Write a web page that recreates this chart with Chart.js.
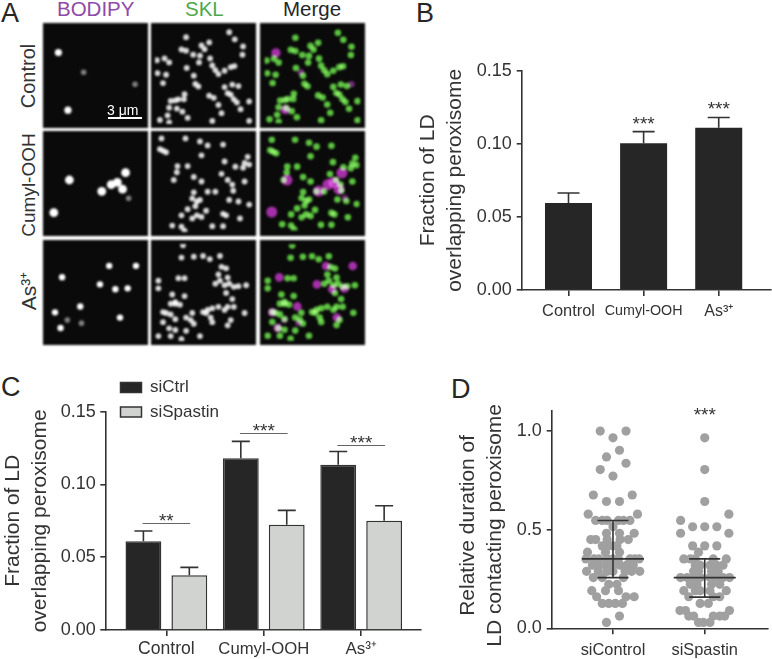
<!DOCTYPE html>
<html>
<head>
<meta charset="utf-8">
<title>LD peroxisome figure</title>
<script src="https://cdn.jsdelivr.net/npm/chart.js@4"></script>
<style>
  html, body { margin: 0; background: #fff; }
  body { position: relative; width: 772px; height: 659px; overflow: hidden; font-family: "Liberation Sans", Arial, sans-serif; color: #333; }
  canvas { position: absolute; }
  canvas.micro { background: #0a0a0a; filter: blur(0.9px); }
  .t { position: absolute; white-space: nowrap; line-height: 1; }
  .letter { font-size: 27px; color: #262626; }
  .head { font-size: 20.5px; }
  .row { font-size: 20px; transform: translate(-50%, -50%) rotate(-90deg); }
</style>
</head>
<body>
<div class="t letter" style="left:1px;top:0px">A</div>
<div class="t letter" style="left:416px;top:0px">B</div>
<div class="t letter" style="left:1px;top:374px">C</div>
<div class="t letter" style="left:451px;top:376px">D</div>

<div class="t head" style="left:57px;top:-1px;color:#8e4aa6">BODIPY</div>
<div class="t head" style="left:185px;top:-1px;color:#4fa84e">SKL</div>
<div class="t head" style="left:283px;top:-1px;color:#262626">Merge</div>

<div class="t row" style="left:28px;top:76px">Control</div>
<div class="t row" style="left:28px;top:185px;font-size:19px">Cumyl-OOH</div>
<div class="t row" style="left:28px;top:291px;font-size:21px">As³⁺</div>

<script>
Chart.defaults.font.family = '"Liberation Sans", Arial, sans-serif';
Chart.defaults.color = "#333";
Chart.defaults.animation = false;

const INK = "#333";

// Panel B
const treatments = ["Control", "Cumyl-OOH", "As³⁺"];
const overlapValues = [0.0595, 0.1003, 0.111];
const overlapErrorTops = [0.0663, 0.1083, 0.118];
const overlapStars = [null, "***", "***"];
const overlapStarLevels = [null, 0.1093, 0.1197];
const fractionTicks = [0, 0.05, 0.1, 0.15];

// Panel C
const ctrlValues = [0.0609, 0.118, 0.1136];
const ctrlErrorTops = [0.068, 0.1296, 0.1227];
const spastinValues = [0.0376, 0.0724, 0.0751];
const spastinErrorTops = [0.043, 0.0822, 0.0854];
const pairLevels = [0.0733, 0.1353, 0.1271];
const pairStars = ["**", "***", "***"];

// Panel D: [offset from category centre, relative duration]
const durationGroups = ["siControl", "siSpastin"];
const durationTicks = [0, 0.5, 1];
const siControlPoints = [
  [-0.139, 1], [0.142, 1], [0, 0.966], [0.071, 0.903], [-0.071, 0.869], [0.142, 0.837], [-0.139, 0.805], [0, 0.772],
  [-0.214, 0.676], [0.21, 0.676], [-0.071, 0.643], [0.071, 0.643], [-0.27, 0.579], [0.267, 0.579],
  [-0.189, 0.547], [-0.117, 0.547], [-0.064, 0.547], [0.06, 0.547], [0.114, 0.547], [0.185, 0.547], [0, 0.515],
  [-0.071, 0.482], [0.071, 0.482], [0.231, 0.482], [-0.242, 0.45], [-0.189, 0.45], [-0.064, 0.45], [0.078, 0.45], [0.167, 0.45],
  [-0.117, 0.418], [-0.064, 0.418], [0, 0.418], [0.043, 0.418], [-0.278, 0.386], [-0.082, 0.386], [0.071, 0.386],
  [-0.295, 0.352], [-0.206, 0.352], [-0.153, 0.352], [-0.064, 0.352], [0, 0.352], [0.06, 0.352], [0.185, 0.352], [0.238, 0.352], [0.285, 0.352],
  [-0.224, 0.32], [-0.153, 0.32], [-0.082, 0.32], [0, 0.32], [0.078, 0.32], [0.149, 0.32], [0.221, 0.32],
  [-0.288, 0.289], [-0.16, 0.289], [-0.064, 0.289], [0, 0.289], [0.132, 0.289], [0.203, 0.289], [0.292, 0.289],
  [-0.214, 0.257], [-0.117, 0.257], [0.114, 0.257], [-0.046, 0.223], [0.043, 0.223], [-0.231, 0.191], [-0.082, 0.191], [0.06, 0.191],
  [-0.178, 0.16], [0.142, 0.16], [0.231, 0.16], [-0.117, 0.126], [-0.046, 0.126], [0.025, 0.126], [0.103, 0.126],
  [0.071, 0.062], [-0.071, 0.03]
];
const siSpastinPoints = [
  [0, 0.966], [0, 0.805], [0, 0.643], [0.263, 0.579], [-0.263, 0.547], [-0.132, 0.515], [0, 0.515], [0.132, 0.515],
  [-0.263, 0.482], [0.263, 0.482], [-0.132, 0.418], [0, 0.418], [0.132, 0.418], [-0.068, 0.386],
  [-0.228, 0.352], [-0.157, 0.352], [-0.103, 0.352], [0.093, 0.352], [0.235, 0.352],
  [-0.103, 0.32], [-0.05, 0.32], [0.057, 0.32], [0.128, 0.32], [0.199, 0.32],
  [-0.121, 0.289], [-0.068, 0.289], [0.075, 0.289], [0.146, 0.289],
  [-0.263, 0.257], [-0.192, 0.257], [-0.121, 0.257], [-0.05, 0.257], [0.057, 0.257], [0.128, 0.257], [0.199, 0.257], [0.27, 0.257],
  [-0.157, 0.223], [-0.085, 0.223], [0.075, 0.223], [0.164, 0.223],
  [-0.228, 0.191], [-0.103, 0.191], [-0.05, 0.191], [0.057, 0.191], [0.235, 0.191],
  [-0.174, 0.16], [0.093, 0.16], [0.164, 0.16], [-0.05, 0.126], [0.039, 0.126],
  [-0.27, 0.09], [-0.21, 0.09], [0.27, 0.09],
  [-0.174, 0.062], [-0.121, 0.062], [0.093, 0.062], [0.164, 0.062], [0.217, 0.062],
  [-0.068, 0.03], [-0.014, 0.03], [0.057, 0.03]
];
const durationMedians = [0.352, 0.257];
const durationUpper = [0.547, 0.352];
const durationLower = [0.257, 0.158];

const bodipyControl = [[166, 153], [197, 340]];
const bodipyControlDim = [[248, 217], [415, 256]];
const bodipyCumyl = [[201, 540], [150, 647], [307, 577], [338, 555], [358, 548], [375, 570], [385, 516]];
const bodipyCumylDim = [[395, 600]];
const bodipyAs = [[331, 792], [418, 792], [178, 829], [301, 852], [351, 868], [391, 865], [237, 924], [155, 943], [173, 994], [366, 960]];
const bodipyAsDim = [[195, 968], [241, 978]];
const sklControl = [
  [555, 103], [695, 87], [713, 110], [605, 130], [630, 120], [615, 142], [740, 133], [738, 160], [540, 143], [555, 147],
  [578, 160], [600, 163], [633, 172], [640, 195], [460, 178], [485, 172], [500, 185], [597, 185], [557, 203], [462, 220],
  [490, 225], [480, 252], [580, 228], [650, 210], [660, 223], [680, 212], [700, 200], [712, 197], [585, 255], [595, 263],
  [705, 257], [725, 262], [690, 285], [700, 290], [630, 293], [645, 300], [710, 305], [720, 315], [550, 288], [548, 305],
  [505, 310], [520, 308], [530, 305], [660, 323], [760, 312], [500, 332], [525, 335], [543, 345], [560, 365], [495, 357],
  [470, 372], [500, 380], [670, 350], [732, 337], [760, 375], [640, 375], [680, 265]
];
const sklCumyl = [
  [480, 445], [490, 450], [470, 440], [553, 405], [600, 415], [625, 428], [675, 425], [605, 460], [527, 495], [560, 495],
  [680, 480], [755, 465], [745, 485], [760, 490], [715, 497], [740, 500], [525, 515], [515, 540], [580, 530], [605, 545],
  [670, 520], [690, 540], [705, 555], [745, 545], [708, 575], [580, 580], [625, 578], [650, 578], [575, 600], [590, 610],
  [600, 605], [585, 625], [560, 635], [695, 605], [725, 610], [620, 640], [675, 650], [685, 655], [575, 665], [590, 655],
  [605, 660], [730, 665], [510, 688], [540, 692], [550, 705], [640, 690], [675, 690], [760, 620], [475, 405], [540, 655]
];
const sklAs = [
  [545, 725], [540, 765], [580, 762], [610, 760], [632, 770], [665, 760], [670, 795], [685, 800], [660, 820], [690, 830],
  [665, 840], [695, 850], [680, 855], [710, 860], [725, 858], [750, 855], [465, 840], [530, 832], [550, 832], [465, 865],
  [510, 885], [505, 915], [520, 915], [535, 918], [550, 890], [650, 850], [685, 880], [705, 900], [710, 925], [690, 925],
  [660, 925], [640, 930], [625, 935], [610, 942], [680, 935], [745, 945], [480, 942], [490, 945], [505, 950], [520, 965],
  [575, 945], [570, 968], [555, 960], [520, 910], [480, 975], [500, 995], [520, 1000], [465, 1020], [505, 1020], [555, 1003],
  [635, 960], [640, 975], [700, 968], [690, 985], [540, 1030], [600, 1020], [580, 980], [620, 945]
];

function addCanvas(left, top, width, height, cls) {
  const c = document.createElement("canvas");
  c.width = width;
  c.height = height;
  c.style.left = left + "px";
  c.style.top = top + "px";
  c.style.width = width + "px";
  c.style.height = height + "px";
  if (cls) c.className = cls;
  document.body.appendChild(c);
  return c;
}

// ---- panel A ----
// crop px -> 0..315 image units
const frame = (pts, x0, y0) => pts.map(([x, y]) => ({ x: x - x0, y: y - y0 }));
const screenBlend = {
  id: "screenBlend",
  beforeDatasetsDraw(chart) { chart.ctx.globalCompositeOperation = "screen"; },
  afterDatasetsDraw(chart) { chart.ctx.globalCompositeOperation = "source-over"; }
};

function microChart(left, top, datasets) {
  new Chart(addCanvas(left, top, 105, 105, "micro"), {
    type: "scatter",
    data: { datasets },
    plugins: [screenBlend],
    options: {
      responsive: false,
      layout: { padding: 0 },
      plugins: { legend: { display: false }, tooltip: { enabled: false } },
      scales: {
        x: { display: false, min: 0, max: 315 },
        y: { display: false, min: 0, max: 315, reverse: true }
      }
    }
  });
}
const spots = (data, color, r) => ({ data, backgroundColor: color, borderWidth: 0, pointRadius: r });

const rowsA = [
  { top: 23, y0: 70, lit: bodipyControl, dim: bodipyControlDim, skl: sklControl, rLd: 3.6 },
  { top: 131, y0: 394, lit: bodipyCumyl, dim: bodipyCumylDim, skl: sklCumyl, rLd: 4.4 },
  { top: 240, y0: 721, lit: bodipyAs, dim: bodipyAsDim, skl: sklAs, rLd: 3.2 }
];
rowsA.forEach((row) => {
  const lit = frame(row.lit, 129, row.y0);
  const dim = frame(row.dim, 129, row.y0);
  const skl = frame(row.skl, 454, row.y0);
  microChart(43, row.top, [spots(lit, "#ffffff", row.rLd), spots(dim, "#808080", 2.8)]);
  microChart(151, row.top, [spots(skl, "#d8d8d8", 2.9)]);
  microChart(260, row.top, [
    spots(lit, "#a52fa8", row.rLd + 1.1),
    spots(dim, "#702a74", 3.2),
    spots(skl, "#5cc440", 3.3)
  ]);
});

// ---- shared bits ----
function valueAxis(width, ticks, top, title, titlePad, tickPad, digits) {
  return {
    min: ticks[0],
    max: top,
    afterFit: (s) => { s.width = width; },
    afterBuildTicks: (s) => { s.ticks = ticks.map((value) => ({ value })); },
    border: { color: INK, width: 1.6 },
    grid: { drawOnChartArea: false, color: INK, lineWidth: 1.6, tickLength: 5 },
    ticks: { padding: tickPad, font: { size: 18 }, callback: (v) => v.toFixed(digits) },
    title: {
      display: true,
      text: title,
      color: INK,
      padding: { top: titlePad, bottom: 0 },
      font: { size: 21, lineHeight: 27 / 21 }
    }
  };
}
function categoryAxis(labels, min, max, height, sizes, tickPad) {
  return {
    type: "linear",
    offset: false,
    min,
    max,
    afterFit: (s) => { s.height = height; },
    afterBuildTicks: (s) => { s.ticks = labels.map((_, i) => ({ value: i + 1 })); },
    border: { color: INK, width: 1.6 },
    grid: { offset: false, drawOnChartArea: false, color: INK, lineWidth: 1.6, tickLength: 6 },
    ticks: {
      autoSkip: false,
      maxRotation: 0,
      padding: tickPad,
      callback: (v, i) => labels[i],
      font: (ctx) => ({ size: sizes[ctx.index] || sizes[0] })
    }
  };
}
function stars(ctx, text, x, y) {
  ctx.save();
  ctx.fillStyle = INK;
  ctx.font = '19px "Liberation Sans", Arial, sans-serif';
  ctx.textAlign = "center";
  ctx.textBaseline = "alphabetic";
  ctx.fillText(text, x, y);
  ctx.restore();
}
function capLine(ctx, x, top, bottom, capHalf) {
  ctx.moveTo(x, bottom);
  ctx.lineTo(x, top);
  ctx.moveTo(x - capHalf, top);
  ctx.lineTo(x + capHalf, top);
}
const xy = (values) => values.map((y, i) => ({ x: i + 1, y }));

// ---- panel B ----
new Chart(addCanvas(400, 50, 372, 290), {
  type: "bar",
  data: {
    datasets: [{
      label: "Fraction",
      data: xy(overlapValues),
      backgroundColor: "#262626",
      borderWidth: 0,
      barPercentage: 47 / 75.1,
      categoryPercentage: 1
    }]
  },
  plugins: [{
    id: "marksB",
    afterDatasetsDraw(chart) {
      const { ctx, scales: { x, y } } = chart;
      ctx.save();
      ctx.strokeStyle = INK;
      ctx.lineWidth = 1.6;
      ctx.beginPath();
      overlapValues.forEach((v, i) => capLine(ctx, x.getPixelForValue(i + 1), y.getPixelForValue(overlapErrorTops[i]), y.getPixelForValue(v), 11));
      ctx.stroke();
      ctx.restore();
      overlapStars.forEach((s, i) => { if (s) stars(ctx, s, x.getPixelForValue(i + 1), y.getPixelForValue(overlapStarLevels[i])); });
    }
  }],
  options: {
    responsive: false,
    layout: { padding: { top: 20.7, right: 1, left: 0, bottom: 0 } },
    plugins: { legend: { display: false }, tooltip: { enabled: false } },
    scales: {
      x: categoryAxis(treatments, 0.377, 3.696, 50, [16.4, 14.3, 16], 6),
      y: valueAxis(121.7, fractionTicks, 0.15, ["Fraction of LD", "overlapping peroxisome"], 14.5, 5, 2)
    }
  }
});

// ---- panel C ----
new Chart(addCanvas(0, 375, 430, 284), {
  type: "bar",
  data: {
    datasets: [
      { label: "siCtrl", data: xy(ctrlValues), backgroundColor: "#262626", borderColor: "#333", borderWidth: 1.5, barPercentage: 0.78, categoryPercentage: 0.943 },
      { label: "siSpastin", data: xy(spastinValues), backgroundColor: "#d1d3d1", borderColor: "#333", borderWidth: 1.5, barPercentage: 0.78, categoryPercentage: 0.943 }
    ]
  },
  plugins: [{
    id: "legendSpot",
    afterLayout(chart) {
      const l = chart.legend;
      l.left = 113;
      l.right = l.left + l.width;
      l.top = -3.5;
      l.bottom = l.top + l.height;
    }
  }, {
    id: "marksC",
    afterDatasetsDraw(chart) {
      const { ctx, scales: { x, y } } = chart;
      ctx.save();
      ctx.strokeStyle = INK;
      ctx.lineWidth = 1.6;
      ctx.beginPath();
      [[ctrlValues, ctrlErrorTops], [spastinValues, spastinErrorTops]].forEach(([vals, tops], d) => {
        const bars = chart.getDatasetMeta(d).data;
        vals.forEach((v, i) => capLine(ctx, bars[i].x, y.getPixelForValue(tops[i]), y.getPixelForValue(v), 9));
      });
      ctx.stroke();
      ctx.strokeStyle = "#666";
      ctx.lineWidth = 1;
      pairLevels.forEach((level, i) => {
        const py = Math.round(y.getPixelForValue(level)) + 0.5;
        ctx.beginPath();
        ctx.moveTo(x.getPixelForValue(i + 1 - 0.245), py);
        ctx.lineTo(x.getPixelForValue(i + 1 + 0.245), py);
        ctx.stroke();
        stars(ctx, pairStars[i], x.getPixelForValue(i + 1), py + 3);
      });
      ctx.restore();
    }
  }],
  options: {
    responsive: false,
    layout: { padding: { top: 36.7, right: 9.3, left: 0, bottom: 0 } },
    plugins: {
      tooltip: { enabled: false },
      legend: {
        position: "chartArea",
        align: "start",
        labels: { boxWidth: 21, boxHeight: 10, padding: 7.5, font: { size: 17 }, color: INK }
      }
    },
    scales: {
      x: categoryAxis(treatments, 0.373, 3.611, 29, [17.6, 16.7, 17], 3),
      y: valueAxis(105.3, fractionTicks, 0.15, ["Fraction of LD", "overlapping peroxisome"], 0, 4.5, 2)
    }
  }
});

// ---- panel D ----
const durationScatter = [siControlPoints, siSpastinPoints].map((pts, g) => ({
  label: durationGroups[g],
  data: pts.map(([off, y]) => ({ x: g + 1 + off, y })),
  backgroundColor: "#a0a0a0",
  borderWidth: 0,
  pointRadius: 4.6
}));
new Chart(addCanvas(440, 395, 332, 264), {
  type: "scatter",
  data: { datasets: durationScatter },
  plugins: [{
    id: "marksD",
    afterDatasetsDraw(chart) {
      const { ctx, scales: { x, y } } = chart;
      ctx.save();
      ctx.strokeStyle = INK;
      ctx.lineWidth = 1.6;
      ctx.beginPath();
      durationMedians.forEach((m, g) => {
        const px = x.getPixelForValue(g + 1);
        const top = y.getPixelForValue(durationUpper[g]);
        const low = y.getPixelForValue(durationLower[g]);
        const mid = y.getPixelForValue(m);
        ctx.moveTo(px, top);
        ctx.lineTo(px, low);
        ctx.moveTo(px - 15.5, top);
        ctx.lineTo(px + 15.5, top);
        ctx.moveTo(px - 15.5, low);
        ctx.lineTo(px + 15.5, low);
        ctx.moveTo(px - 31, mid);
        ctx.lineTo(px + 31, mid);
      });
      ctx.stroke();
      ctx.restore();
      stars(ctx, "***", x.getPixelForValue(2), y.getPixelForValue(1.049));
    }
  }],
  options: {
    responsive: false,
    layout: { padding: { top: 14.3, right: 0, left: 0, bottom: 0 } },
    plugins: { legend: { display: false }, tooltip: { enabled: false } },
    scales: {
      x: categoryAxis(durationGroups, 0.332, 2.683, 30.7, [16.4, 16.4], 6),
      y: valueAxis(111.7, durationTicks, 1.103, ["Relative duration of  ", "LD contacting peroxisome  "], 14.5, 5, 1)
    }
  }
});
</script>
<div class="t" style="left:107px;top:103px;font-size:14px;color:#fff">3 μm</div>
<div style="position:absolute;left:108px;top:117px;width:34px;height:2px;background:#fff"></div>
</body>
</html>
